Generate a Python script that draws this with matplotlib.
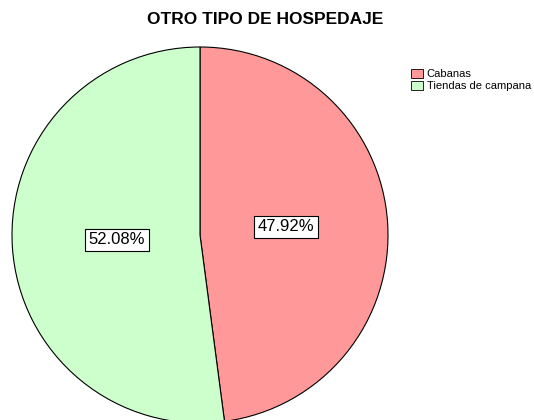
import matplotlib
matplotlib.use("Agg")
import matplotlib.pyplot as plt
from matplotlib.patches import Patch

categories = ["Cabanas", "Tiendas de campana"]
values = [47.92, 52.08]
colors = ["#FF9999", "#CCFFCC"]
label_pos = [(0.457, 0.045), (-0.441, -0.024)]

plt.rcParams['font.family'] = ['Liberation Sans', 'DejaVu Sans']

fig = plt.figure(figsize=(5.34, 4.20), dpi=100)
fig.patch.set_facecolor('white')

# pie axes placed so the circle matches the reference
ax = fig.add_axes([12 / 534, -3 / 420, 376 / 534, 376 / 420])
wedges, _ = ax.pie(values, colors=colors, startangle=90, counterclock=False,
                   radius=1, wedgeprops=dict(edgecolor='black', linewidth=0.8))
ax.set_xlim(-1, 1)
ax.set_ylim(-1, 1)
ax.set_aspect('equal')
ax.axis('off')

for v, (x, y) in zip(values, label_pos):
    ax.text(x, y, f"{v:.2f}%", ha='center', va='center', fontsize=12,
            bbox=dict(facecolor='white', edgecolor='black', linewidth=0.8, pad=2.5))

fig.text(265 / 534, 1 - 20 / 420, "OTRO TIPO DE HOSPEDAJE", ha='center', va='center',
         fontsize=12.5, fontweight='bold')

handles = [Patch(facecolor=c, edgecolor='black', linewidth=0.6) for c in colors]
fig.legend(handles, categories, loc='upper left', bbox_to_anchor=(411 / 534, 1 - 69 / 420),
           frameon=False, fontsize=8, handlelength=1.1, handleheight=0.9,
           handletextpad=0.3, labelspacing=0.1, borderpad=0, borderaxespad=0)

fig.savefig("out.png", dpi=100)
